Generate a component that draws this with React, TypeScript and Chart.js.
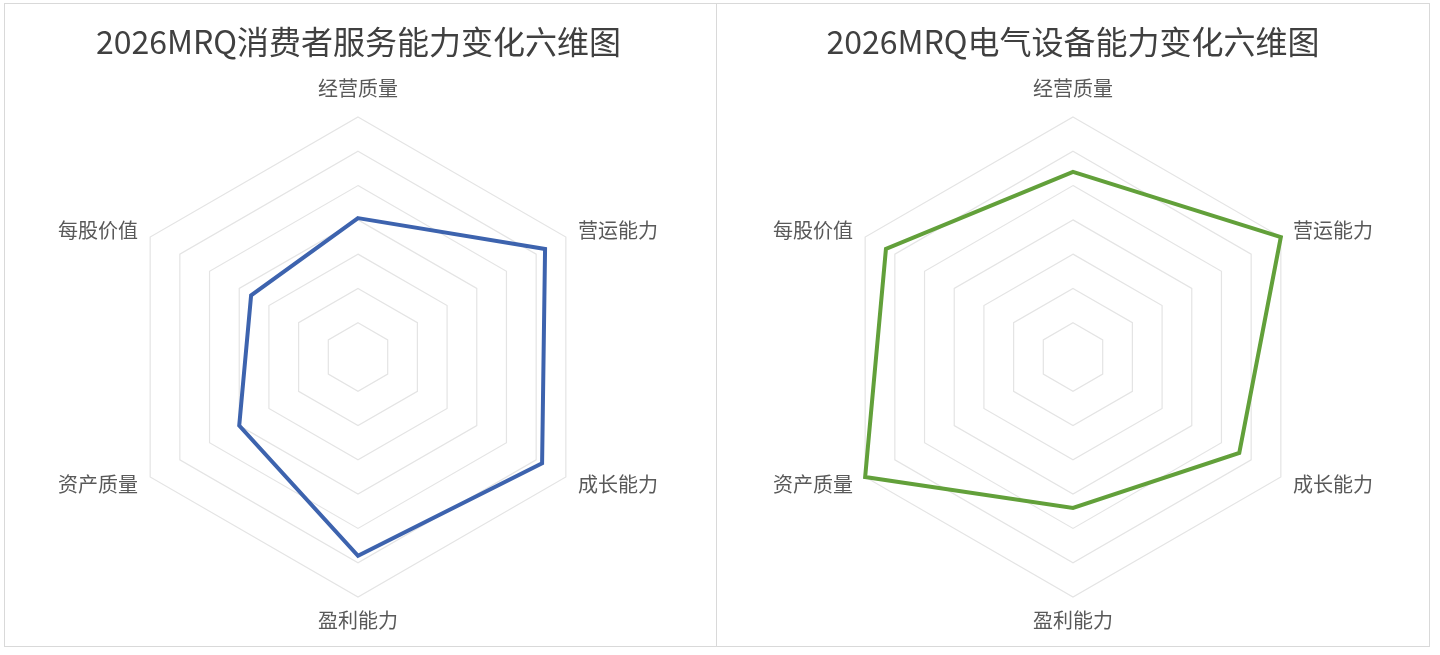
import React, { useRef, useEffect } from "react";
import { Chart, registerables } from "chart.js";

Chart.register(...registerables);

const AXES = ["经营质量", "营运能力", "成长能力", "盈利能力", "资产质量", "每股价值"];

const CONSUMER_TITLE = "2026MRQ消费者服务能力变化六维图";
const CONSUMER_VALUES = [4.05, 6.3, 6.2, 5.8, 4.0, 3.6];

const ELECTRIC_TITLE = "2026MRQ电气设备能力变化六维图";
const ELECTRIC_VALUES = [5.4, 7.0, 5.6, 4.4, 7.0, 6.3];

const SCALE_MAX = 7;

const FONT = '"Noto Sans CJK SC", "Noto Sans", sans-serif';
// label distance per axis (labels centred on it), top first, clockwise
const LABEL_PAD = [29, 14, 14, 23, 14, 14];

interface RadarProps {
  title: string;
  values: number[];
  color: string;
  padRight: number;
}

function RadarPanel({ title, values, color, padRight }: RadarProps) {
  const canvasRef = useRef<HTMLCanvasElement>(null);

  useEffect(() => {
    if (!canvasRef.current) return;
    const chart = new Chart(canvasRef.current, {
      type: "radar",
      data: {
        labels: AXES,
        datasets: [
          {
            label: title,
            data: values,
            borderColor: color,
            backgroundColor: color,
            borderWidth: 4,
            borderJoinStyle: "miter",
            fill: false,
            pointRadius: 0,
            pointHoverRadius: 0,
            tension: 0,
          },
        ],
      },
      options: {
        animation: false,
        responsive: true,
        maintainAspectRatio: false,
        layout: { padding: { right: padRight, bottom: 23 } },
        plugins: {
          legend: { display: false },
          tooltip: { enabled: false },
          title: {
            display: true,
            text: title,
            color: "#404040",
            font: { family: FONT, size: 32, weight: "normal" },
            padding: { top: 19, bottom: 23.6 },
          },
        },
        scales: {
          r: {
            min: 0,
            max: SCALE_MAX,
            ticks: { display: false, stepSize: 1 },
            angleLines: { display: false },
            grid: { color: "#e4e4e4", lineWidth: 1.2 },
            pointLabels: {
              color: "#595959",
              font: { family: FONT, size: 20, lineHeight: 0 },
              padding: (ctx: any) => LABEL_PAD[ctx.index] ?? 14,
            },
          },
        },
      },
    });
    return () => chart.destroy();
  }, [title, values, color, padRight]);

  return (
    <div style={{ position: "relative", width: "100%", height: "100%" }}>
      <canvas ref={canvasRef} />
    </div>
  );
}

export default function App() {
  return (
    <div
      style={{
        position: "absolute",
        left: 0,
        top: 0,
        width: 1440,
        height: 655,
        background: "#ffffff",
        overflow: "hidden",
      }}
    >
      <div
        style={{
          position: "absolute",
          left: 4,
          top: 3,
          width: 713,
          height: 644,
          boxSizing: "border-box",
          border: "1px solid #d9d9d9",
        }}
      >
        <RadarPanel title={CONSUMER_TITLE} values={CONSUMER_VALUES} color="#3d63ae" padRight={4} />
      </div>
      <div
        style={{
          position: "absolute",
          left: 716,
          top: 3,
          width: 714,
          height: 644,
          boxSizing: "border-box",
          border: "1px solid #d9d9d9",
        }}
      >
        <RadarPanel title={ELECTRIC_TITLE} values={ELECTRIC_VALUES} color="#62a03a" padRight={0} />
      </div>
    </div>
  );
}
